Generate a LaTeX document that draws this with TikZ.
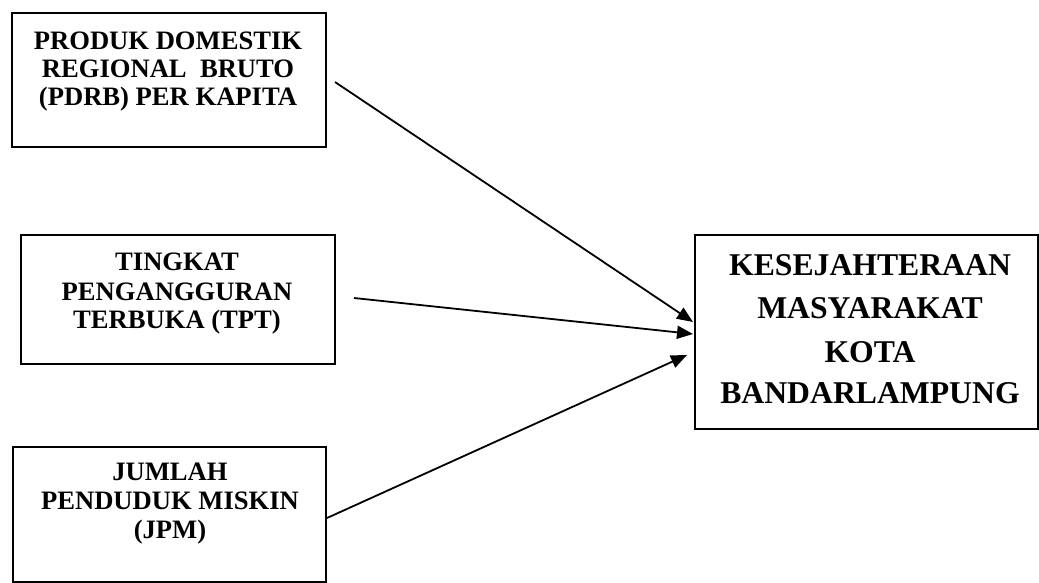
\documentclass[tikz,border=0pt]{standalone}
\usepackage{fontspec}
\setmainfont{Liberation Serif}
\usetikzlibrary{arrows.meta,calc}
\begin{document}
\begin{tikzpicture}[x=1pt,y=-1pt,
  box/.style={draw, line width=2pt, inner sep=0pt, anchor=north west},
  small/.style={anchor=base, inner sep=0pt, font=\fontsize{26.6}{28}\selectfont\bfseries},
  big/.style={anchor=base, inner sep=0pt, font=\fontsize{31.7}{38}\selectfont\bfseries},
  conn/.style={line width=1.8pt, -{Triangle[length=16pt,width=13pt]}}]
\useasboundingbox (0,0) rectangle (1039,583);
% boxes
\node[box, minimum width=314pt, minimum height=134pt] (b1) at (11,12) {};
\node[box, minimum width=314pt, minimum height=129pt] (b2) at (20,234) {};
\node[box, minimum width=313pt, minimum height=135pt] (b3) at (12,446) {};
\node[box, minimum width=343pt, minimum height=194pt] (b4) at (694,234) {};
% texts
\node[small] (t1a) at (168,49.5) {PRODUK DOMESTIK};
\node[small] (t1b) at (168,78) {REGIONAL\ \ BRUTO};
\node[small] (t1c) at (168,106) {(PDRB) PER KAPITA};
\node[small] (t2a) at (177,270) {TINGKAT};
\node[small] (t2b) at (177,300) {PENGANGGURAN};
\node[small] (t2c) at (177,328) {TERBUKA (TPT)};
\node[small] (t3a) at (170,480) {JUMLAH};
\node[small] (t3b) at (170,509) {PENDUDUK MISKIN};
\node[small] (t3c) at (170,538) {(JPM)};
\node[big] (t4a) at (870,275.5) {KESEJAHTERAAN};
\node[big] (t4b) at (870,318.5) {MASYARAKAT};
\node[big] (t4c) at (870,362) {KOTA};
\node[big] (t4d) at (870,403) {BANDARLAMPUNG};
% connector ends
\coordinate (s1) at ($(b1.north east)+(8,70)$);
\coordinate (s2) at ($(b2.north east)+(18,64)$);
\coordinate (s3) at ($(b3.north east)+(0,72)$);
\coordinate (e1) at ($(b4.north west)+(-1,88)$);
\coordinate (e2) at ($(b4.north west)+(-1,100)$);
\coordinate (e3) at ($(b4.north west)+(-7,121)$);
\draw[conn] (s1) -- (e1);
\draw[conn] (s2) -- (e2);
\draw[conn] (s3) -- (e3);
\end{tikzpicture}
\end{document}
